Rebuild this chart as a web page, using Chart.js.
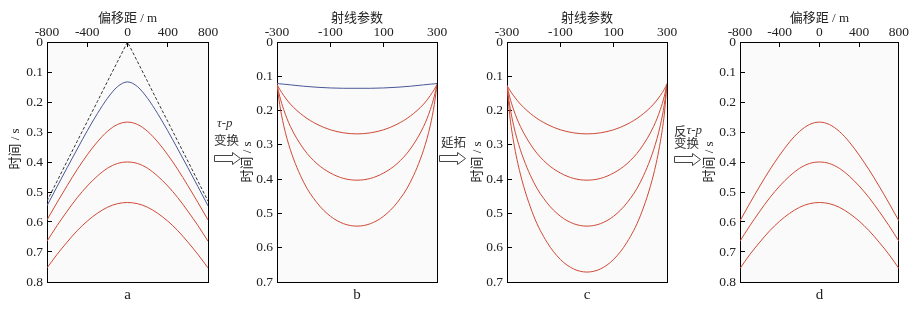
<!DOCTYPE html>
<html><head><meta charset="utf-8">
<script src="https://cdn.jsdelivr.net/npm/chart.js@4.4.1/dist/chart.umd.min.js"></script>
<style>
html,body{margin:0;padding:0;background:#fff;width:915px;height:311px;overflow:hidden}
#wrap{position:relative;width:915px;height:311px}
canvas{position:absolute;top:0}
.lbl{position:absolute;white-space:nowrap;color:#333;line-height:1}
.cjk{font-family:'Noto Sans CJK SC',sans-serif;font-size:12.5px}
.it{font-family:'Liberation Serif',serif;font-style:italic;font-size:13px}
svg{position:absolute;left:0;top:0}
</style></head><body>
<div id="wrap">
<canvas id="ca" width="230" height="311" style="left:0px"></canvas>
<canvas id="cb" width="230" height="311" style="left:230px"></canvas>
<canvas id="cc" width="230" height="311" style="left:460px"></canvas>
<canvas id="cd" width="225" height="311" style="left:690px"></canvas>
<svg width="915" height="311">
<polygon points="214.5,155.5 232.5,155.5 232.5,152.5 240.5,158.5 232.5,164.5 232.5,161.5 214.5,161.5" fill="#fff" stroke="#444" stroke-width="1"/>
<polygon points="439.5,155.5 457.5,155.5 457.5,152.5 465.5,158.5 457.5,164.5 457.5,161.5 439.5,161.5" fill="#fff" stroke="#444" stroke-width="1"/>
<polygon points="674.5,156.5 692.5,156.5 692.5,153.5 700.5,159.5 692.5,165.5 692.5,162.5 674.5,162.5" fill="#fff" stroke="#444" stroke-width="1"/>
</svg>
<div class="lbl it" style="left:217px;top:116px">τ-p</div>
<div class="lbl cjk" style="left:214px;top:133.5px">变换</div>
<div class="lbl cjk" style="left:441px;top:135.5px">延拓</div>
<div class="lbl" style="left:674px;top:123px"><span class="cjk">反</span><span class="it" style="position:relative;top:-2px">τ-p</span></div>
<div class="lbl cjk" style="left:674px;top:136.5px">变换</div>
</div>
<script>
// ---- data ----
const offsetX = [-800,-700,-600,-500,-400,-300,-200,-100,0,100,200,300,400,500,600,700,800];
const directA = [0.530,0.464,0.397,0.331,0.265,0.199,0.132,0.066,0,0.066,0.132,0.199,0.265,0.331,0.397,0.464,0.530];
const blueA   = [0.546,0.482,0.419,0.357,0.296,0.239,0.188,0.149,0.133,0.149,0.188,0.239,0.296,0.357,0.419,0.482,0.546];
const redA1   = [0.593,0.535,0.479,0.425,0.376,0.333,0.298,0.275,0.267,0.275,0.298,0.333,0.376,0.425,0.479,0.535,0.593];
const redA2   = [0.664,0.612,0.564,0.519,0.480,0.447,0.421,0.405,0.400,0.405,0.421,0.447,0.480,0.519,0.564,0.612,0.664];
const redA3   = [0.753,0.708,0.667,0.629,0.597,0.571,0.551,0.539,0.535,0.539,0.551,0.571,0.597,0.629,0.667,0.708,0.753];

const rayP  = [-300,-290,-275,-250,-200,-150,-100,-50,0,50,100,150,200,250,275,290,300];
const blueB = [0.121,0.122,0.123,0.125,0.129,0.132,0.134,0.135,0.135,0.135,0.134,0.132,0.129,0.125,0.123,0.122,0.121];
const redB1 = [0.124,0.138,0.156,0.181,0.216,0.240,0.256,0.265,0.268,0.265,0.256,0.240,0.216,0.181,0.156,0.138,0.124];
const redB2 = [0.124,0.158,0.197,0.246,0.312,0.355,0.382,0.398,0.403,0.398,0.382,0.355,0.312,0.246,0.197,0.158,0.124];
const redB3 = [0.124,0.182,0.243,0.314,0.409,0.469,0.508,0.530,0.537,0.530,0.508,0.469,0.409,0.314,0.243,0.182,0.124];

const redC1 = [0.127,0.140,0.157,0.181,0.216,0.240,0.256,0.265,0.268,0.265,0.256,0.240,0.216,0.181,0.156,0.138,0.122];
const redC2 = [0.127,0.160,0.198,0.246,0.312,0.355,0.382,0.398,0.403,0.398,0.382,0.355,0.312,0.246,0.197,0.158,0.122];
const redC3 = [0.127,0.184,0.244,0.314,0.409,0.469,0.508,0.530,0.537,0.530,0.508,0.469,0.409,0.314,0.243,0.182,0.122];
const redC4 = [0.127,0.212,0.292,0.385,0.507,0.584,0.634,0.662,0.671,0.662,0.634,0.584,0.507,0.385,0.291,0.210,0.122];

const redD1 = [0.596,0.537,0.480,0.426,0.377,0.333,0.298,0.275,0.267,0.275,0.298,0.333,0.377,0.426,0.480,0.537,0.596];
const redD2 = [0.664,0.612,0.564,0.519,0.480,0.447,0.421,0.405,0.400,0.405,0.421,0.447,0.480,0.519,0.564,0.612,0.664];
const redD3 = [0.755,0.708,0.667,0.629,0.597,0.571,0.551,0.539,0.535,0.539,0.551,0.571,0.597,0.629,0.667,0.708,0.755];

const offsetTicks = [-800,-400,0,400,800];
const rayTicks = [-300,-100,100,300];
const timeTicks8 = [0,0.1,0.2,0.3,0.4,0.5,0.6,0.7,0.8];
const timeLabels8 = ['0','0.1','0.2','0.3','0.4','0.5','0.6','0.7','0.8'];
const timeTicks7 = [0,0.1,0.2,0.3,0.4,0.5,0.6,0.7];
const timeLabels7 = ['0','0.1','0.2','0.3','0.4','0.5','0.6','0.7'];

// ---- styles ----
const RED = '#cf4a36', BLUE = '#4a5896', DARK = '#333';
const serif = {family:"'Liberation Serif', serif", size:13.5};
const cjk = {family:"'Liberation Serif', 'Noto Sans CJK SC', serif", size:13};

const bgPlugin = {id:'bg', beforeDraw(chart){
  const {ctx, chartArea:{left,top,right,bottom}} = chart;
  ctx.save(); ctx.fillStyle = '#fafafa'; ctx.fillRect(left,top,right-left,bottom-top); ctx.restore();
}};

function panel(id, c) {
  const datasets = c.series.map(s => ({
    data: c.xs.map((x,i) => ({x, y: s.ys[i]})),
    borderColor: s.color, borderWidth: 1, borderDash: s.dash || [],
    pointRadius: 0, fill: false,
    tension: s.dash ? 0 : 0.4,
    cubicInterpolationMode: s.dash ? 'default' : 'monotone'
  }));
  new Chart(document.getElementById(id), {
    type: 'line',
    data: {datasets},
    plugins: [bgPlugin],
    options: {
      responsive: false, animation: false, devicePixelRatio: 1,
      layout: {padding: 0},
      plugins: {legend: {display: false}, tooltip: {enabled: false}},
      scales: {
        x: {
          type: 'linear', position: 'top', min: c.xMin, max: c.xMax,
          afterBuildTicks: s => { s.ticks = c.xTicks.map(v => ({value: v})); },
          ticks: {font: serif, color: '#222', padding: 6, maxRotation: 0, autoSkip: false, callback: v => String(v)},
          grid: {drawOnChartArea: false, tickLength: -5, color: '#000', lineWidth: 1},
          border: {color: '#000', width: 1},
          title: {display: true, text: c.xTitle, font: cjk, color: '#222', padding: {top: 11, bottom: 0}},
          afterFit: s => { s.height = 42; }
        },
        y: {
          type: 'linear', position: 'left', reverse: true, min: 0, max: c.yMax,
          afterBuildTicks: s => { s.ticks = c.yTicks.map(v => ({value: v})); },
          ticks: {font: serif, color: '#222', padding: 9, autoSkip: false, callback: (v, i) => c.yLabels[i]},
          grid: {drawOnChartArea: false, tickLength: -5, color: '#000', lineWidth: 1},
          border: {color: '#000', width: 1},
          title: {display: true, text: c.yTitle, font: cjk, color: '#222', padding: {top: c.yTitlePad, bottom: 0}},
          afterFit: s => { s.width = c.left; }
        },
        xb: {
          type: 'linear', position: 'bottom', min: c.xMin, max: c.xMax,
          ticks: {display: false}, grid: {display: false},
          border: {color: '#000', width: 1},
          title: {display: true, text: c.label, font: {family: "'Liberation Serif', serif", size: 15}, color: '#222', padding: {top: 0, bottom: 7}},
          afterFit: s => { s.height = 29; }
        },
        yr: {
          type: 'linear', position: 'right', min: 0, max: c.yMax,
          ticks: {display: false}, grid: {display: false},
          border: {color: '#000', width: 1},
          afterFit: s => { s.width = c.rightW; }
        }
      }
    }
  });
}

panel('ca', {xs: offsetX, xMin: -800, xMax: 800, xTicks: offsetTicks, xTitle: '偏移距 / m',
  yMax: 0.8, yTicks: timeTicks8, yLabels: timeLabels8, yTitle: '\u3000\u3000时间 / s', yTitlePad: 8,
  left: 47, rightW: 22, label: 'a',
  series: [
    {ys: directA, color: DARK, dash: [3, 2]},
    {ys: blueA, color: BLUE},
    {ys: redA1, color: RED}, {ys: redA2, color: RED}, {ys: redA3, color: RED}
  ]});

panel('cb', {xs: rayP, xMin: -300, xMax: 300, xTicks: rayTicks, xTitle: '射线参数',
  yMax: 0.7, yTicks: timeTicks7, yLabels: timeLabels7, yTitle: '时间 / s', yTitlePad: 10,
  left: 47, rightW: 23, label: 'b',
  series: [
    {ys: blueB, color: BLUE},
    {ys: redB1, color: RED}, {ys: redB2, color: RED}, {ys: redB3, color: RED}
  ]});

panel('cc', {xs: rayP, xMin: -300, xMax: 300, xTicks: rayTicks, xTitle: '射线参数',
  yMax: 0.7, yTicks: timeTicks7, yLabels: timeLabels7, yTitle: '时间 / s', yTitlePad: 10,
  left: 47, rightW: 23, label: 'c',
  series: [
    {ys: redC1, color: RED}, {ys: redC2, color: RED}, {ys: redC3, color: RED}, {ys: redC4, color: RED}
  ]});

panel('cd', {xs: offsetX, xMin: -800, xMax: 800, xTicks: offsetTicks, xTitle: '偏移距 / m',
  yMax: 0.8, yTicks: timeTicks8, yLabels: timeLabels8, yTitle: '时间 / s', yTitlePad: 12,
  left: 50, rightW: 14, label: 'd',
  series: [
    {ys: redD1, color: RED}, {ys: redD2, color: RED}, {ys: redD3, color: RED}
  ]});
</script>
</body></html>
